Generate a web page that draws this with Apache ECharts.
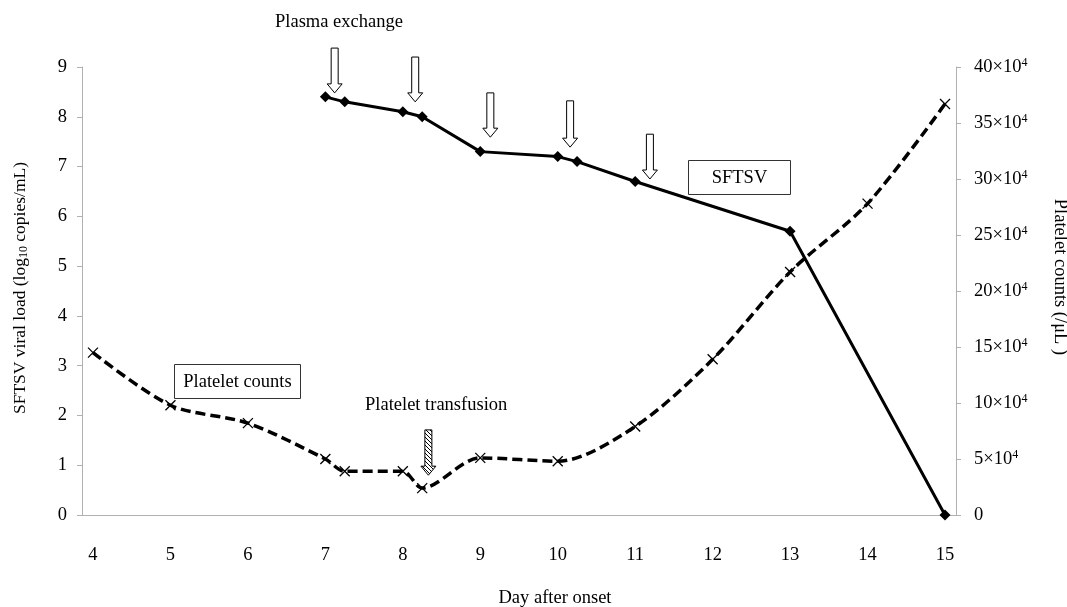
<!DOCTYPE html>
<html>
<head>
<meta charset="utf-8">
<script src="https://cdn.jsdelivr.net/npm/echarts@6/dist/echarts.min.js"></script>
<style>html,body{margin:0;padding:0;background:#fff;}#c{width:1067px;height:607px;}</style>
</head>
<body>
<div id="c"></div>
<script>
// Data
const dayTicks = [4,5,6,7,8,9,10,11,12,13,14,15];
const sftsvDays   = [7, 7.25, 8, 8.25, 9, 10, 10.25, 11, 13, 15];
const sftsvLoad   = [8.4, 8.3, 8.1, 8.0, 7.3, 7.2, 7.1, 6.7, 5.7, 0];
const plateletDays = [4, 5, 6, 7, 7.25, 8, 8.25, 9, 10, 11, 12, 13, 14, 15];
const plateletX1e4 = [14.5, 9.8, 8.2, 5.0, 3.9, 3.9, 2.4, 5.1, 4.8, 7.9, 13.9, 21.7, 27.8, 36.7];
// Annotation arrows: [day, tip value, top value] on left axis scale
const plasmaArrows = [[7.12, 8.48, 9.38], [8.16, 8.30, 9.20], [9.13, 7.59, 8.48], [10.16, 7.39, 8.32], [11.19, 6.75, 7.65]];
const transfusionArrow = [[8.33, 0.80, 1.71]];

const FONT = "'Liberation Serif', 'DejaVu Serif', serif";
const FS = 18.5;

// hatch pattern
const pc = document.createElement('canvas');
pc.width = 4; pc.height = 4;
const pctx = pc.getContext('2d');
pctx.fillStyle = '#fff'; pctx.fillRect(0,0,4,4);
pctx.strokeStyle = '#000'; pctx.lineWidth = 1;
pctx.beginPath(); pctx.moveTo(0,0); pctx.lineTo(4,4); pctx.stroke();
pctx.beginPath(); pctx.moveTo(-1,3); pctx.lineTo(1,5); pctx.stroke();
pctx.beginPath(); pctx.moveTo(3,-1); pctx.lineTo(5,1); pctx.stroke();

function arrowRender(fill) {
  return function (params, api) {
    const tip = api.coord([api.value(0), api.value(1)]);
    const top = api.coord([api.value(0), api.value(2)]);
    const x = tip[0], sw = 3.5, hw = 7.5, hh = 9;
    const pts = [[x - sw, top[1]], [x + sw, top[1]], [x + sw, tip[1] - hh], [x + hw, tip[1] - hh],
                 [x, tip[1]], [x - hw, tip[1] - hh], [x - sw, tip[1] - hh]];
    return { type: 'polygon', shape: { points: pts }, style: { fill: fill, stroke: '#000', lineWidth: 1 } };
  };
}

const chart = echarts.init(document.getElementById('c'));
chart.setOption({
  animation: false,
  backgroundColor: '#fff',
  textStyle: { fontFamily: FONT },
  grid: { left: 82, right: 111, top: 67, bottom: 92 },
  xAxis: {
    type: 'value', min: 3.858, max: 15.142,
    axisLine: { lineStyle: { color: '#b0b0b0', width: 1 } },
    axisTick: { show: false },
    splitLine: { show: false },
    axisLabel: { customValues: dayTicks, color: '#000', fontSize: FS, fontFamily: FONT, margin: 31 }
  },
  yAxis: [
    {
      type: 'value', min: 0, max: 9, interval: 1,
      axisLine: { show: true, lineStyle: { color: '#b0b0b0' } },
      axisTick: { show: true, length: 5, lineStyle: { color: '#b0b0b0' } },
      splitLine: { show: false },
      axisLabel: { color: '#000', fontSize: FS, fontFamily: FONT, margin: 15 }
    },
    {
      type: 'value', min: 0, max: 40, interval: 5,
      position: 'right',
      axisLine: { show: true, lineStyle: { color: '#b0b0b0' } },
      axisTick: { show: true, length: 5, lineStyle: { color: '#b0b0b0' } },
      splitLine: { show: false },
      axisLabel: {
        color: '#000', fontSize: FS, fontFamily: FONT, margin: 18,
        formatter: v => v === 0 ? '{a|0}' : '{a|' + v + '×10}{s|4}',
        rich: { a: { fontSize: FS, fontFamily: FONT, color: '#000' },
                s: { fontSize: 12, fontFamily: FONT, color: '#000', verticalAlign: 'top', padding: [0,0,9,0] } }
      }
    }
  ],
  series: [
    {
      name: 'Platelet counts', type: 'line', yAxisIndex: 1,
      data: plateletDays.map((d, i) => [d, plateletX1e4[i]]),
      smooth: 0.3,
      lineStyle: { color: '#000', width: 3.5, type: [10, 5] },
      symbol: 'path://M0,0L10,10M10,0L0,10', symbolSize: 10,
      itemStyle: { color: 'transparent', borderColor: '#000', borderWidth: 1.3 },
      z: 2
    },
    {
      name: 'SFTSV', type: 'line', yAxisIndex: 0,
      data: sftsvDays.map((d, i) => [d, sftsvLoad[i]]),
      lineStyle: { color: '#000', width: 3 },
      symbol: 'diamond', symbolSize: 11,
      itemStyle: { color: '#000' },
      z: 3
    },
    {
      type: 'custom', yAxisIndex: 0, clip: false, z: 5,
      data: plasmaArrows, renderItem: arrowRender('#fff')
    },
    {
      type: 'custom', yAxisIndex: 0, clip: false, z: 5,
      data: transfusionArrow, renderItem: arrowRender({ image: pc, repeat: 'repeat' })
    }
  ],
  graphic: [
    { type: 'text', x: 275, y: 22, style: { text: 'Plasma exchange', font: FS + 'px ' + FONT, fill: '#000', verticalAlign: 'middle' } },
    { type: 'text', x: 365, y: 405, style: { text: 'Platelet transfusion', font: FS + 'px ' + FONT, fill: '#000', verticalAlign: 'middle' } },
    { type: 'rect', shape: { x: 688.5, y: 160.5, width: 102, height: 34 }, style: { fill: '#fff', stroke: '#333', lineWidth: 1 }, z: 10 },
    { type: 'text', x: 739.5, y: 178, style: { text: 'SFTSV', font: FS + 'px ' + FONT, fill: '#000', align: 'center', verticalAlign: 'middle' }, z: 11 },
    { type: 'rect', shape: { x: 174.5, y: 364.5, width: 126, height: 34 }, style: { fill: '#fff', stroke: '#333', lineWidth: 1 }, z: 10 },
    { type: 'text', x: 237.5, y: 382, style: { text: 'Platelet counts', font: FS + 'px ' + FONT, fill: '#000', align: 'center', verticalAlign: 'middle' }, z: 11 },
    { type: 'text', x: 555, y: 598, style: { text: 'Day after onset', font: FS + 'px ' + FONT, fill: '#000', align: 'center', verticalAlign: 'middle' } },
    { type: 'text', x: 20, y: 288, rotation: Math.PI / 2,
      style: { text: '{a|SFTSV viral load (log}{sub|10}{a| copies/mL)}', align: 'center', verticalAlign: 'middle',
               rich: { a: { fontSize: 17.5, fontFamily: FONT, fill: '#000' },
                       sub: { fontSize: 12, fontFamily: FONT, fill: '#000', verticalAlign: 'bottom', padding: [7,0,0,0] } } } },
    { type: 'text', x: 1060, y: 277, rotation: -Math.PI / 2,
      style: { text: 'Platelet counts (/μL )', font: FS + 'px ' + FONT, fill: '#000', align: 'center', verticalAlign: 'middle' } }
  ]
});
</script>
</body>
</html>
